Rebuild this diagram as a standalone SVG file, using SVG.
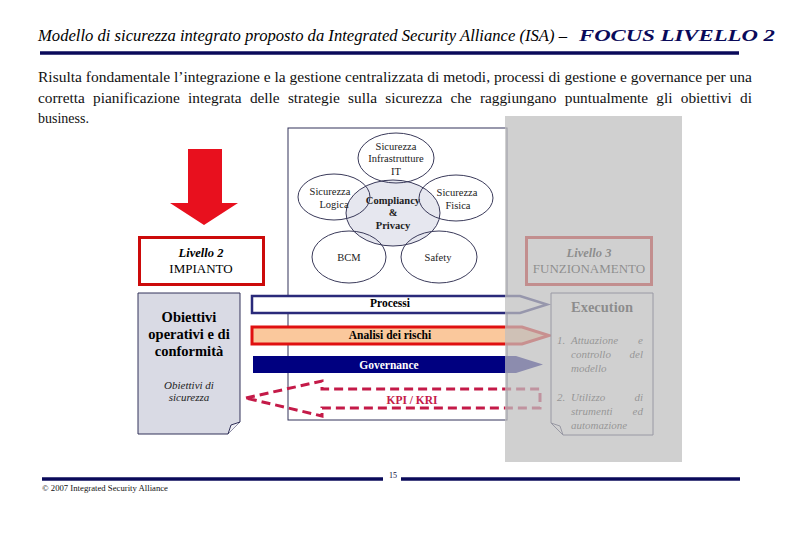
<svg xmlns="http://www.w3.org/2000/svg" width="810" height="540" viewBox="0 0 810 540">
<defs>
<style>
.serif{font-family:"Liberation Serif","DejaVu Serif",serif}
.ell{fill:none;stroke:#3a3a5a;stroke-width:1}
.et{font-family:"Liberation Serif","DejaVu Serif",serif;font-size:10.5px;fill:#222;text-anchor:middle}
.bt{font-family:"Liberation Serif","DejaVu Serif",serif;font-weight:bold;font-size:11.5px;text-anchor:middle}
.li{font-family:"Liberation Serif","DejaVu Serif",serif;font-style:italic;font-size:11px;fill:#222}
.navyline{stroke:#0a0a5a;stroke-width:3.5}
</style>
</defs>
<rect width="810" height="540" fill="#fff"/>

<g id="title">
<text x="38" y="41" class="serif" font-style="italic" font-size="16.5" textLength="529" lengthAdjust="spacingAndGlyphs">Modello di sicurezza integrato proposto da Integrated Security Alliance (ISA) –</text>
<text x="579" y="41" class="serif" font-style="italic" font-weight="bold" font-size="16.5" fill="#0a0a5a" textLength="196" lengthAdjust="spacingAndGlyphs">FOCUS LIVELLO 2</text>
<line x1="40" y1="53" x2="739" y2="53" class="navyline"/>
</g>

<g id="intro" class="serif" font-size="14" fill="#111">
<text x="38" y="82" textLength="714" lengthAdjust="spacingAndGlyphs">Risulta fondamentale l’integrazione e la gestione centralizzata di metodi, processi di gestione e governance per una</text>
<text x="38" y="103" textLength="714" lengthAdjust="spacingAndGlyphs" word-spacing="4">corretta pianificazione integrata delle strategie sulla sicurezza che raggiungano puntualmente gli obiettivi di</text>
<text x="38" y="123">business.</text>
</g>

<g id="model-box">
<rect x="288" y="128" width="219" height="292" fill="#fff" stroke="#33335a" stroke-width="1"/>
</g>

<g id="compliancy">
<ellipse cx="393" cy="213" rx="47" ry="33" fill="#e6e7ef" stroke="#3a3a5a" stroke-width="1"/>
<text class="et" font-weight="bold" x="393" y="204">Compliancy</text>
<text class="et" font-weight="bold" x="393" y="216">&amp;</text>
<text class="et" font-weight="bold" x="393" y="229">Privacy</text>
</g>
<g id="infrastrutture">
<ellipse class="ell" cx="396" cy="158" rx="38" ry="25"/>
<text class="et" x="396" y="150">Sicurezza</text>
<text class="et" x="396" y="162">Infrastrutture</text>
<text class="et" x="396" y="175">IT</text>
</g>
<g id="logica">
<ellipse class="ell" cx="334" cy="197" rx="36" ry="23"/>
<text class="et" x="330" y="195">Sicurezza</text>
<text class="et" x="334" y="208">Logica</text>
</g>
<g id="fisica">
<ellipse class="ell" cx="456" cy="198" rx="37" ry="23"/>
<text class="et" x="457" y="196">Sicurezza</text>
<text class="et" x="458" y="209">Fisica</text>
</g>
<g id="bcm">
<ellipse class="ell" cx="349" cy="257" rx="37" ry="26"/>
<text class="et" x="349" y="261">BCM</text>
</g>
<g id="safety">
<ellipse class="ell" cx="439" cy="257" rx="38" ry="26"/>
<text class="et" x="438" y="261">Safety</text>
</g>

<g id="livello2">
<rect x="139.5" y="237.5" width="124" height="47" fill="#fff" stroke="#cc0a0a" stroke-width="3"/>
<text x="201" y="257" class="serif" font-style="italic" font-weight="bold" font-size="12.5" text-anchor="middle">Livello 2</text>
<text x="201" y="273" class="serif" font-size="13" text-anchor="middle">IMPIANTO</text>
</g>

<g id="obiettivi">
<path d="M138,293 H240 V422 L228,434 H138 Z" fill="#d9dae4" stroke="#33335a" stroke-width="1"/>
<path d="M228,434 L231,425 L240,422" fill="#eeeef4" stroke="#33335a" stroke-width="1"/>
<text x="189" y="322" class="serif" font-weight="bold" font-size="14.5" text-anchor="middle">Obiettivi</text>
<text x="189" y="339" class="serif" font-weight="bold" font-size="14.5" text-anchor="middle">operativi e di</text>
<text x="189" y="356" class="serif" font-weight="bold" font-size="14.5" text-anchor="middle">conformità</text>
<text x="189" y="389" class="li" text-anchor="middle">Obiettivi di</text>
<text x="189" y="401" class="li" text-anchor="middle">sicurezza</text>
</g>

<g id="connectors">
<path d="M188,149 H222 V203 H238 L204,225 L170,203 H188 Z" fill="#e8101e"/>
<polygon points="252,296 520,296 547,304.5 520,313 252,313" fill="#fff" stroke="#2a2a7a" stroke-width="2.5"/>
<text x="390" y="307" class="bt">Processi</text>
<polygon points="252,327 522,327 549,335.5 522,344 252,344" fill="#fac89c" stroke="#e01010" stroke-width="3"/>
<text x="390" y="339" class="bt">Analisi dei rischi</text>
<polygon points="253,356 516,356 543,364.5 516,373 253,373" fill="#000080"/>
<text x="389" y="369" class="bt" fill="#fff">Governance</text>
<polygon points="246,398 322,381 322,389 540,389 540,408 322,408 322,416" fill="none" stroke="#c41a48" stroke-width="3" stroke-dasharray="9,5"/>
<text x="412" y="404" class="bt" font-size="12" fill="#c41a48">KPI / KRI</text>
</g>

<g id="livello3">
<rect x="526.5" y="237.5" width="125" height="47" fill="#fff" stroke="#cc0a0a" stroke-width="3"/>
<text x="589" y="257" class="serif" font-style="italic" font-weight="bold" font-size="12.5" text-anchor="middle">Livello 3</text>
<text x="589" y="273" class="serif" font-size="13" text-anchor="middle">FUNZIONAMENTO</text>
</g>

<g id="execution">
<path d="M551,293 H653 V435 H563 L551,423 Z" fill="#fff" stroke="#33335a" stroke-width="1"/>
<path d="M563,435 L560,426 L551,423" fill="none" stroke="#33335a" stroke-width="1"/>
<text x="602" y="312" class="serif" font-weight="bold" font-size="14.5" text-anchor="middle">Execution</text>
<text x="557" y="344" class="li">1.</text>
<text x="571" y="344" class="li">Attuazione</text>
<text x="643" y="344" class="li" text-anchor="end">e</text>
<text x="571" y="358" class="li">controllo</text>
<text x="643" y="358" class="li" text-anchor="end">del</text>
<text x="571" y="372" class="li">modello</text>
<text x="557" y="401" class="li">2.</text>
<text x="571" y="401" class="li">Utilizzo</text>
<text x="643" y="401" class="li" text-anchor="end">di</text>
<text x="571" y="415" class="li">strumenti</text>
<text x="643" y="415" class="li" text-anchor="end">ed</text>
<text x="571" y="429" class="li">automazione</text>
</g>

<rect id="overlay" x="505" y="116" width="177" height="346" fill="#bfbfbf" fill-opacity="0.733"/>

<g id="footer">
<line x1="42" y1="479" x2="383" y2="479" class="navyline"/>
<line x1="401" y1="479" x2="740" y2="479" class="navyline"/>
<text x="393" y="478" class="serif" font-size="8" text-anchor="middle" fill="#0a0a3a">15</text>
<text x="42" y="491" class="serif" font-size="7.5" textLength="126" lengthAdjust="spacingAndGlyphs" fill="#111">© 2007 Integrated Security Alliance</text>
</g>
</svg>
